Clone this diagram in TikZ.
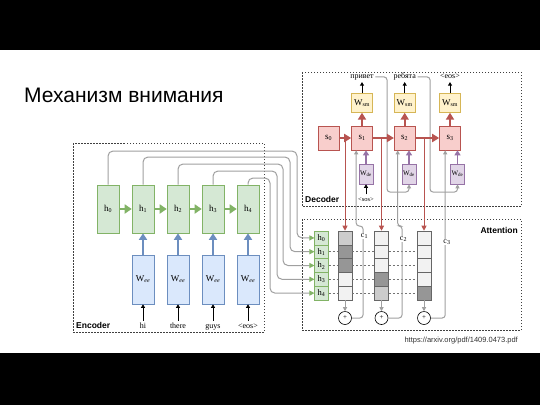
\documentclass[tikz,border=0pt]{standalone}
\usepackage{fontspec}
\setmainfont{Liberation Serif}
\newfontfamily\arialfont{Liberation Sans}
\usetikzlibrary{positioning, arrows.meta}
\definecolor{mygreen}{RGB}{213,232,212}
\definecolor{mygreenline}{RGB}{130,179,102}
\definecolor{myblue}{RGB}{218,232,252}
\definecolor{myblueline}{RGB}{108,142,191}
\definecolor{mypink}{RGB}{248,206,204}
\definecolor{mypinkline}{RGB}{184,84,80}
\definecolor{myyellow}{RGB}{255,242,204}
\definecolor{myyellowline}{RGB}{214,182,86}
\definecolor{mypurple}{RGB}{225,213,231}
\definecolor{mypurpleline}{RGB}{150,115,166}
\definecolor{mygray}{RGB}{160,160,160}
\definecolor{shdark}{RGB}{150,150,150}
\definecolor{shlight}{RGB}{204,204,204}
\definecolor{shpale}{RGB}{242,242,242}

\begin{document}
\begin{tikzpicture}[x=1pt, y=-1pt,
	nodebox/.style={rectangle, draw, inner sep=0pt, line width=0.6pt, font=\fontsize{9}{9}\selectfont},
	hbox/.style={nodebox, fill=mygreen, draw=mygreenline, minimum width=22pt, minimum height=48pt},
	eebox/.style={nodebox, fill=myblue, draw=myblueline, minimum width=22pt, minimum height=49pt},
	sbox/.style={nodebox, fill=mypink, draw=mypinkline, minimum width=21pt, minimum height=24pt},
	smbox/.style={nodebox, fill=myyellow, draw=myyellowline, minimum width=21pt, minimum height=19pt},
	debox/.style={nodebox, fill=mypurple, draw=mypurpleline, minimum width=14pt, minimum height=20pt, font=\fontsize{7}{7}\selectfont},
	ahbox/.style={nodebox, fill=mygreen, draw=mygreenline, minimum width=13.5pt, minimum height=13.8pt, font=\fontsize{8.5}{8.5}\selectfont},
	attcell/.style={nodebox, draw=black!60, minimum width=14pt, minimum height=13.8pt},
	sumcirc/.style={circle, draw, line width=0.6pt, minimum size=13pt, inner sep=0pt, font=\fontsize{7}{7}\selectfont},
	word/.style={inner sep=1.5pt, text height=5.5pt, text depth=1.5pt, font=\fontsize{8}{8}\selectfont},
	dashframe/.style={draw=black!75, line width=0.6pt, dash pattern=on 1.5pt off 1.5pt},
	boxlabel/.style={inner sep=0pt, font=\arialfont\bfseries\fontsize{8.5}{8.5}\selectfont},
	garrow/.style={draw=mygreenline, line width=2.4pt, -{Triangle[length=7pt, width=9pt]}},
	barrow/.style={draw=myblueline, line width=2.4pt, -{Triangle[length=6.5pt, width=8pt]}},
	rarrow/.style={draw=mypinkline, line width=2.2pt, -{Triangle[length=7pt, width=8pt]}},
	parrow/.style={draw=mypurpleline, line width=1.6pt, -{Triangle[length=5pt, width=6pt]}},
	rline/.style={draw=mypinkline, line width=1pt, -{Triangle[length=5pt, width=5pt]}},
	inarrow/.style={draw=black, line width=0.8pt, -{Triangle[length=3.5pt, width=4pt]}},
	grline/.style={draw=mygray, line width=1pt, rounded corners=3pt, -{Triangle[length=4pt, width=4pt]}},
	hline/.style={draw=mygray, line width=1pt, rounded corners=5pt, -{Triangle[length=5pt, width=5pt, color=mygreenline]}},
	dline/.style={draw=black!55, line width=0.6pt, dash pattern=on 2pt off 2pt},
	clabel/.style={fill=white, inner sep=0.5pt, font=\fontsize{8}{8}\selectfont}
]

\useasboundingbox (0,0) rectangle (540,405);
\fill[white] (0,0) rectangle (540,405);
\fill[black] (0,0) rectangle (540,50);
\fill[black] (0,353) rectangle (540,405);

\draw (24,102) node [anchor=base west, inner sep=0pt, font=\arialfont\fontsize{21}{24}\selectfont] (title) {Механизм внимания};

%----------FRAMES-------------%
\draw[dashframe] (73,143) rectangle (264,332);
\draw[dashframe] (302,72) rectangle (521,206);
\draw[dashframe] (302,219) rectangle (521,330);
\draw (76,328) node [boxlabel, anchor=base west] (enc) {Encoder};
\draw (305,202) node [boxlabel, anchor=base west] (dec) {Decoder};
\draw (518,233) node [boxlabel, anchor=base east] (att) {Attention};

%----------ENCODER-------------%
\foreach \i in {0,...,4}{
	\draw (108+35*\i, 209) node [hbox] (h\i) {h\textsubscript{\i}};
};

\foreach \i/\w in {1/hi, 2/there, 3/guys, 4/\textless eos\textgreater}{
	\draw (108+35*\i, 279.5) node [eebox] (ee\i) {W\textsubscript{\textit{ee}}};
	\draw (108+35*\i, 326) node [word] (in\i) {\w};
	\draw[inarrow] (in\i) -- (ee\i);
	\draw[barrow] (ee\i) -- (h\i);
};

\foreach \i [count=\j] in {0,...,3}{
	\draw[garrow] (h\i) -- (h\j);
};

%----------ATTENTION-------------%
\foreach \i in {0,...,4}{
	\draw (321.5, 237.9+13.8*\i) node [ahbox] (ah\i) {h\textsubscript{\i}};
};

\foreach \i/\x/\y in {0/297/151, 1/290/157, 2/283/164, 3/277/171, 4/270/178}{
	\draw[hline] (h\i.north) |- (\x,\y) |- (ah\i.west);
};

\foreach \c/\x/\sa/\sb/\sc/\sd/\se in {1/345/shlight/shdark/shdark/shpale/shpale, 2/381.5/shpale/shpale/shpale/shdark/shlight, 3/424/shpale/shpale/shpale/shpale/shdark}{
	\foreach \r/\s in {0/\sa, 1/\sb, 2/\sc, 3/\sd, 4/\se}{
		\draw (\x, 237.9+13.8*\r) node [attcell, fill=\s] (a\c\r) {};
	};
	\draw (\x, 318) node [sumcirc] (sum\c) {+};
	\draw[grline] (a\c4) -- (sum\c);
};

\foreach \r in {1,...,4}{
	\draw[dline] (ah\r) -- (a1\r);
	\draw[dline] (a1\r) -- (a2\r);
	\draw[dline] (a2\r) -- (a3\r);
};

%----------DECODER-------------%
\foreach \i/\x in {0/328.5, 1/362, 2/404.7, 3/450}{
	\draw (\x, 138) node [sbox] (s\i) {s\textsubscript{\i}};
};

\foreach \i/\w in {1/привет, 2/ребята, 3/\textless eos\textgreater}{
	\node [smbox, above=13pt of s\i] (sm\i) {W\textsubscript{sm}};
	\node [word, above=11pt of sm\i] (out\i) {\w};
	\draw[rarrow] (s\i) -- (sm\i);
	\draw[inarrow] (sm\i) -- (out\i);
};

\foreach \i/\x in {1/366, 2/409, 3/457.5}{
	\draw (\x, 174) node [debox] (wd\i) {W\textsubscript{de}};
	\draw[parrow] (wd\i) -- (wd\i.north |- s\i.south);
};

\draw (366, 199.5) node [word, font=\fontsize{6.5}{6.5}\selectfont] (sos) {\textless sos\textgreater};
\draw[inarrow] (sos) -- (wd1);

%----------LINKS-------------%
\draw[grline] (out1.east) -| (387,192) -| (wd2.south);
\draw[grline] (out2.east) -| (430,192) -| (wd3.south);

\foreach \c/\x/\dx in {1/363/5, 2/402/3.8}{
	\draw[grline] (sum\c.east) -| (\x,226) -| ([xshift=\dx pt]s\c.south west);
};
\draw[grline] (sum3.east) -| ([xshift=6pt]s3.south west);

\draw[rline] (a10.north |- s0.east) -- (a10.north);
\draw[rline] (a20.north |- s1.east) -- (a20.north);
\draw[rline] (a30.north |- s2.east) -- (a30.north);

\foreach \i [count=\j] in {0,1,2}{
	\draw[rarrow] (s\i) -- (s\j);
};

\foreach \c/\x/\y in {1/364.5/236, 2/403.5/239, 3/447/242}{
	\draw (\x,\y) node [clabel] (cl\c) {c\textsubscript{\c}};
};

%--------COMMENTS-----------%
\draw (518,342) node [anchor=base east, inner sep=0pt, text=black!80, font=\arialfont\fontsize{7.5}{7.5}\selectfont] (url) {https://arxiv.org/pdf/1409.0473.pdf};

\end{tikzpicture}
\end{document}
